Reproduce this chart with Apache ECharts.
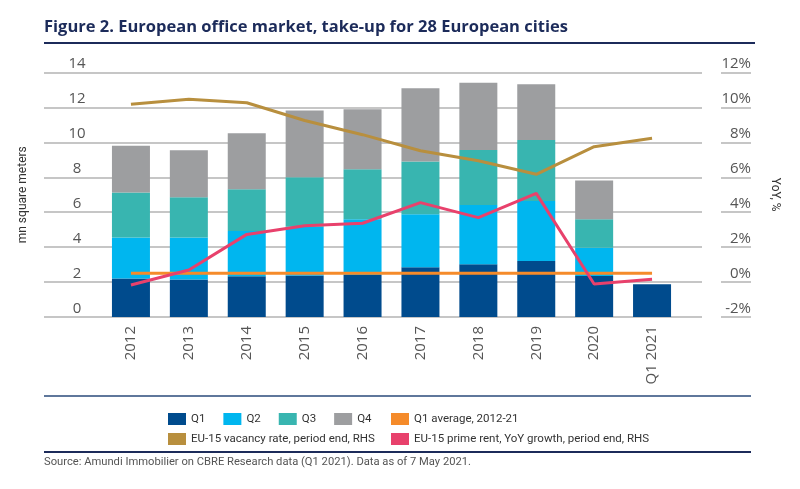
<!DOCTYPE html>
<html>
<head>
<meta charset="utf-8">
<script src="https://cdn.jsdelivr.net/npm/echarts@6/dist/echarts.min.js"></script>
<style>
html,body{margin:0;padding:0;background:#fff;}
#chart{width:800px;height:489px;}
</style>
</head>
<body>
<div id="chart"></div>
<script>
const categories = ['2012','2013','2014','2015','2016','2017','2018','2019','2020','Q1 2021'];
const q1 = [2.2, 2.15, 2.33, 2.37, 2.41, 2.85, 3.02, 3.21, 2.35, 1.87];
const q2 = [2.35, 2.4, 2.6, 2.8, 3.19, 3.03, 3.39, 3.43, 1.62, null];
const q3 = [2.58, 2.3, 2.38, 2.83, 2.86, 3.02, 3.15, 3.5, 1.63, null];
const q4 = [2.67, 2.7, 3.21, 3.82, 3.44, 4.2, 3.86, 3.19, 2.21, null];
const q1Average = [2.5, 2.5, 2.5, 2.5, 2.5, 2.5, 2.5, 2.5, 2.5, 2.5];
const vacancyRate = [10.18, 10.47, 10.27, 9.25, 8.44, 7.52, 6.95, 6.17, 7.75, 8.23];
const primeRentGrowth = [-0.17, 0.69, 2.73, 3.23, 3.37, 4.55, 3.69, 5.08, -0.11, 0.16];
const leftAxisRange = [0, 14, 2];
const rightAxisRange = [-2, 12, 2];

const names = {
  q1: 'Q1', q2: 'Q2', q3: 'Q3', q4: 'Q4',
  avg: 'Q1 average, 2012-21',
  vac: 'EU-15 vacancy rate, period end, RHS',
  rent: 'EU-15 prime rent, YoY growth, period end, RHS'
};
const colors = {
  q1: '#004b8d', q2: '#00b6ef', q3: '#38b5b0', q4: '#9d9ea0',
  avg: '#f58b2a', vac: '#b88f3e', rent: '#e8416c'
};
const narrow = 'Roboto, sans-serif';
const navy = '#1c2b5a';

const chart = echarts.init(document.getElementById('chart'), null, {renderer: 'canvas'});
const TOP = 72.5, BOTTOM = 172;

const barSeries = (key, data) => ({
  name: names[key], type: 'bar', stack: 'total', data: data,
  xAxisIndex: 0, yAxisIndex: 0, barWidth: 38,
  itemStyle: {color: colors[key]}, color: colors[key], z: 3
});
const lineSeries = (key, data, yIdx) => ({
  name: names[key], type: 'line', data: data,
  xAxisIndex: 0, yAxisIndex: yIdx, symbol: 'none',
  lineStyle: {color: colors[key], width: 3}, itemStyle: {color: colors[key]},
  color: colors[key], z: 5
});
const legendText = {color: '#333', fontSize: 11.5, fontFamily: narrow};

chart.setOption({
  animation: false,
  backgroundColor: '#fff',
  grid: [
    {left: 102, right: 119, top: TOP, bottom: BOTTOM},
    {left: 44, right: 98, top: TOP, bottom: BOTTOM},
    {left: 721, right: 49, top: TOP, bottom: BOTTOM}
  ],
  xAxis: [
    {type: 'category', gridIndex: 0, data: categories,
     axisLine: {show: false}, axisTick: {show: false},
     axisLabel: {rotate: 90, margin: 9, color: '#555', fontSize: 15, fontFamily: '"Open Sans", sans-serif'}},
    {type: 'value', gridIndex: 1, show: false},
    {type: 'value', gridIndex: 2, show: false}
  ],
  yAxis: [
    {type: 'value', gridIndex: 0, min: leftAxisRange[0], max: leftAxisRange[1], interval: leftAxisRange[2], show: false},
    {type: 'value', gridIndex: 0, min: rightAxisRange[0], max: rightAxisRange[1], interval: rightAxisRange[2], show: false},
    {type: 'value', gridIndex: 1, min: leftAxisRange[0], max: leftAxisRange[1], interval: leftAxisRange[2],
     axisLine: {show: false}, axisTick: {show: false},
     splitLine: {lineStyle: {color: '#b3b3b3', width: 1.5}},
     axisLabel: {inside: true, margin: 33, align: 'center', verticalAlign: 'bottom', color: '#555', fontSize: 15,
       fontFamily: '"Open Sans", sans-serif', padding: [0, 0, 1, 0]},
     name: 'mn square meters', nameLocation: 'middle', nameRotate: 90, nameGap: 15,
     nameTextStyle: {color: '#333', fontSize: 12, fontFamily: narrow}},
    {type: 'value', gridIndex: 2, position: 'right', min: rightAxisRange[0], max: rightAxisRange[1], interval: rightAxisRange[2],
     axisLine: {show: false}, axisTick: {show: false},
     splitLine: {lineStyle: {color: '#b3b3b3', width: 1.5}},
     axisLabel: {inside: true, margin: 0, align: 'right', verticalAlign: 'bottom', color: '#555', fontSize: 15,
       fontFamily: '"Open Sans", sans-serif', formatter: '{value}%', padding: [0, 0, 1, 0]},
     name: 'YoY, %', nameLocation: 'middle', nameRotate: -90, nameGap: 18,
     nameTextStyle: {color: '#333', fontSize: 12, fontFamily: narrow}}
  ],
  legend: [
    {left: 163, top: 408, itemWidth: 18, itemHeight: 12, itemGap: 18, icon: 'rect',
     data: [names.q1, names.q2, names.q3, names.q4], textStyle: legendText},
    {left: 386, top: 408, orient: 'vertical', itemWidth: 18, itemHeight: 12, itemGap: 8, icon: 'rect',
     data: [names.avg, names.rent], textStyle: legendText},
    {left: 163, top: 428, itemWidth: 18, itemHeight: 12, icon: 'rect',
     data: [names.vac], textStyle: legendText}
  ],
  graphic: [
    {type: 'text', left: 44, top: 19, style: {text: 'Figure 2. European office market, take-up for 28 European cities',
      fill: navy, font: 'bold 16.5px "Open Sans", sans-serif'}},
    {type: 'line', shape: {x1: 44, y1: 43, x2: 755, y2: 43}, style: {stroke: navy, lineWidth: 2}},
    {type: 'line', shape: {x1: 44, y1: 396, x2: 751, y2: 396}, style: {stroke: '#2a4a7a', lineWidth: 1.5}},
    {type: 'line', shape: {x1: 44, y1: 452, x2: 751, y2: 452}, style: {stroke: navy, lineWidth: 2}},
    {type: 'text', left: 44, top: 457, style: {text: 'Source: Amundi Immobilier on CBRE Research data (Q1 2021). Data as of 7 May 2021.',
      fill: '#555', font: '11.2px ' + narrow}}
  ],
  series: [
    barSeries('q1', q1), barSeries('q2', q2), barSeries('q3', q3), barSeries('q4', q4),
    lineSeries('avg', q1Average, 0),
    lineSeries('vac', vacancyRate, 1),
    lineSeries('rent', primeRentGrowth, 1)
  ]
});
</script>
</body>
</html>
